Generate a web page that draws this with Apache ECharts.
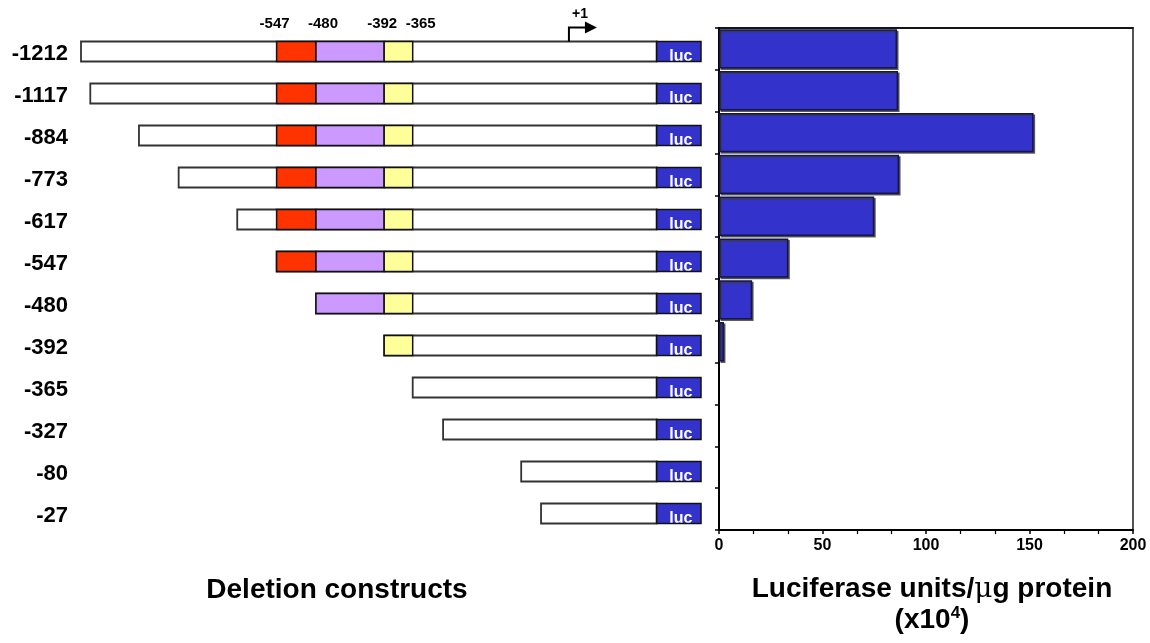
<!DOCTYPE html>
<html>
<head>
<meta charset="utf-8">
<script src="https://cdn.jsdelivr.net/npm/echarts@6/dist/echarts.min.js"></script>
<style>
  html, body { margin: 0; padding: 0; background: #ffffff; }
  #chart { width: 1150px; height: 643px; }
</style>
</head>
<body>
<div id="chart"></div>
<script>
// Promoter deletion constructs, named by their 5' end (bp relative to the start site)
const constructs = ['-1212', '-1117', '-884', '-773', '-617', '-547', '-480', '-392', '-365', '-327', '-80', '-27'];
const constructStart = [-1212, -1117, -884, -773, -617, -547, -480, -392, -365, -327, -80, -27];
// 5' end of each construct on the (not to scale) schematic map: 0 = longest construct, 100 = end of luc
const startOnMap = [0, 1.5, 9.35, 15.75, 25.2, 31.55, 37.9, 48.9, 53.5, 58.4, 71.0, 74.2];

// Regulatory regions inside the promoter
const regionFrom = [-547, -480, -392];
const regionFromMap = [31.55, 37.9, 48.9];
const regionToMap = [37.9, 48.9, 53.5];
const regionColors = ['#ff3300', '#cc99ff', '#ffff99'];

// Region boundaries written above the map
const siteLabels = ['-547', '-480', '-392', '-365'];
const siteOnMap = [31.55, 37.9, 48.9, 53.5];

// Transcription start (+1) and the luciferase reporter
const tssLabel = '+1';
const tssOnMap = 78.7;
const lucFromMap = 92.85;
const lucToMap = 100;

// Reporter activity, luciferase units/µg protein (x10^4)
const activity = [86, 86.5, 152, 87, 75, 33.5, 16, 2.4, 0, 0, 0, 0];
const activityTicks = [0, 50, 100, 150, 200];

const FONT = 'Arial, "Liberation Sans", Helvetica, sans-serif';
const chart = echarts.init(document.getElementById('chart'), null, { renderer: 'canvas' });

function renderConstruct(params, api) {
  const i = params.dataIndex;
  const row = api.value(1);
  const start = api.coord([api.value(0), row]);
  const lucA = api.coord([lucFromMap, row])[0];
  const lucB = api.coord([lucToMap, row])[0];
  const h = 20;
  const top = start[1] - 2 - h / 2;
  const children = [];
  children.push({
    type: 'rect',
    shape: { x: start[0], y: top, width: lucA - start[0], height: h },
    style: { fill: '#ffffff', stroke: '#333333', lineWidth: 1.8 }
  });
  regionFrom.forEach(function (bp, j) {
    if (bp < constructStart[i]) return;
    const a = api.coord([regionFromMap[j], row])[0];
    const b = api.coord([regionToMap[j], row])[0];
    children.push({
      type: 'rect',
      shape: { x: a, y: top, width: b - a, height: h },
      style: { fill: regionColors[j], stroke: '#111111', lineWidth: 1.5 }
    });
  });
  children.push({
    type: 'rect',
    shape: { x: lucA, y: top, width: lucB - lucA, height: h },
    style: { fill: '#3333cc' }
  });
  // reporter name sits low in the box, its foot hidden under the lower edge
  children.push({
    type: 'text',
    x: (lucA + lucB) / 2 + 2,
    y: top + h + 3,
    style: { text: 'luc', fill: '#ffffff', font: 'bold 16px ' + FONT, textAlign: 'center', textVerticalAlign: 'bottom' }
  });
  children.push({
    type: 'rect',
    shape: { x: lucA, y: top + h + 1, width: lucB - lucA + 2, height: 6 },
    style: { fill: '#ffffff' }
  });
  children.push({
    type: 'rect',
    shape: { x: lucA, y: top, width: lucB - lucA, height: h },
    style: { fill: 'none', stroke: '#111111', lineWidth: 1.5 }
  });
  return { type: 'group', children: children };
}

const siteNudge = [-2, 7, -2, 8];
function renderSite(params, api) {
  const p = api.coord([api.value(0), 0]);
  return {
    type: 'text',
    x: p[0] + siteNudge[params.dataIndex],
    y: p[1] - 29.5,
    style: { text: siteLabels[params.dataIndex], fill: '#000', font: 'bold 15px ' + FONT, textAlign: 'center', textVerticalAlign: 'middle' }
  };
}

function renderTss(params, api) {
  const p = api.coord([api.value(0), 0]);
  const boxTop = p[1] - 2 - 10;
  const elbow = p[1] - 26;
  return {
    type: 'group',
    children: [
      { type: 'polyline', shape: { points: [[p[0], boxTop], [p[0], elbow], [p[0] + 17, elbow]] },
        style: { stroke: '#000', lineWidth: 2, fill: 'none' } },
      { type: 'polygon', shape: { points: [[p[0] + 16, elbow - 6], [p[0] + 28, elbow], [p[0] + 16, elbow + 6]] },
        style: { fill: '#000' } },
      { type: 'text', x: p[0] + 11, y: p[1] - 39.5,
        style: { text: tssLabel, fill: '#000', font: 'bold 14px ' + FONT, textAlign: 'center', textVerticalAlign: 'middle' } }
    ]
  };
}

// bars with no activity are left undrawn (no outline on the axis)
const activityData = activity.map(function (v) {
  return v === 0 ? { value: v, itemStyle: { borderWidth: 0, shadowColor: 'rgba(0,0,0,0)', color: 'rgba(0,0,0,0)' } } : v;
});

const option = {
  animation: false,
  backgroundColor: '#ffffff',
  grid: [
    { left: 81, width: 620, top: 32.5, height: 504 },
    { left: 719, right: 17, top: 28, bottom: 113, show: true, borderColor: '#555555', borderWidth: 2, backgroundColor: 'transparent' }
  ],
  xAxis: [
    { gridIndex: 0, type: 'value', min: 0, max: 100, show: false },
    {
      gridIndex: 1, type: 'value',
      min: activityTicks[0], max: activityTicks[activityTicks.length - 1],
      interval: activityTicks[1] - activityTicks[0],
      axisLine: { show: true, lineStyle: { color: '#000', width: 2 } },
      axisTick: { show: true, length: 4, lineStyle: { color: '#000', width: 1.5 } },
      minorTick: { show: true, splitNumber: 3, length: 4, lineStyle: { color: '#000', width: 1.2 } },
      splitLine: { show: false },
      axisLabel: { color: '#000', fontWeight: 'bold', fontSize: 16, fontFamily: FONT, margin: 8 }
    },
    {
      gridIndex: 1, type: 'value', position: 'top',
      min: activityTicks[0], max: activityTicks[activityTicks.length - 1],
      axisLine: { show: true, lineStyle: { color: '#000', width: 1.5 } },
      axisTick: { show: false }, axisLabel: { show: false }, splitLine: { show: false }
    }
  ],
  yAxis: [
    {
      gridIndex: 0, type: 'category', inverse: true, data: constructs,
      axisLine: { show: false }, axisTick: { show: false },
      axisLabel: { color: '#000', fontWeight: 'bold', fontSize: 22, fontFamily: FONT, margin: 13 }
    },
    {
      gridIndex: 1, type: 'category', inverse: true, data: constructs,
      axisLine: { show: true, lineStyle: { color: '#000', width: 2 } },
      axisTick: { show: true, length: 4, lineStyle: { color: '#000', width: 1.5 } },
      axisLabel: { show: false }
    }
  ],
  series: [
    {
      type: 'custom', xAxisIndex: 0, yAxisIndex: 0,
      data: constructs.map(function (c, i) { return [startOnMap[i], i]; }),
      renderItem: renderConstruct, silent: true
    },
    {
      type: 'custom', xAxisIndex: 0, yAxisIndex: 0,
      data: siteOnMap.map(function (x) { return [x, 0]; }),
      renderItem: renderSite, silent: true
    },
    {
      type: 'custom', xAxisIndex: 0, yAxisIndex: 0,
      data: [[tssOnMap, 0]],
      renderItem: renderTss, silent: true
    },
    {
      type: 'bar', xAxisIndex: 1, yAxisIndex: 1,
      data: activityData,
      barCategoryGap: '6%',
      itemStyle: {
        color: '#3333cc', borderColor: '#15154a', borderWidth: 1.5,
        shadowColor: 'rgba(60,60,60,0.8)', shadowOffsetX: 1.5, shadowOffsetY: 1.5, shadowBlur: 0
      },
      silent: true
    }
  ],
  graphic: [
    {
      type: 'text', x: 337, y: 590,
      style: { text: 'Deletion constructs', fill: '#000', font: 'bold 28px ' + FONT, textAlign: 'center', textVerticalAlign: 'middle' }
    },
    {
      type: 'text', x: 932, y: 605,
      style: {
        text: 'Luciferase units/{mu|μ}g protein\n(x10{sup|4})',
        fill: '#000', font: 'bold 28px ' + FONT, textAlign: 'center', textVerticalAlign: 'middle',
        lineHeight: 31,
        rich: {
          mu: { fontSize: 28, fontWeight: 'normal', fontFamily: '"DejaVu Serif", serif', fill: '#000', lineHeight: 31 },
          sup: { fontSize: 17, fontWeight: 'bold', fontFamily: FONT, fill: '#000', verticalAlign: 'top', lineHeight: 31, padding: [0, 0, 10, 0] }
        }
      }
    }
  ]
};

chart.setOption(option);
</script>
</body>
</html>
